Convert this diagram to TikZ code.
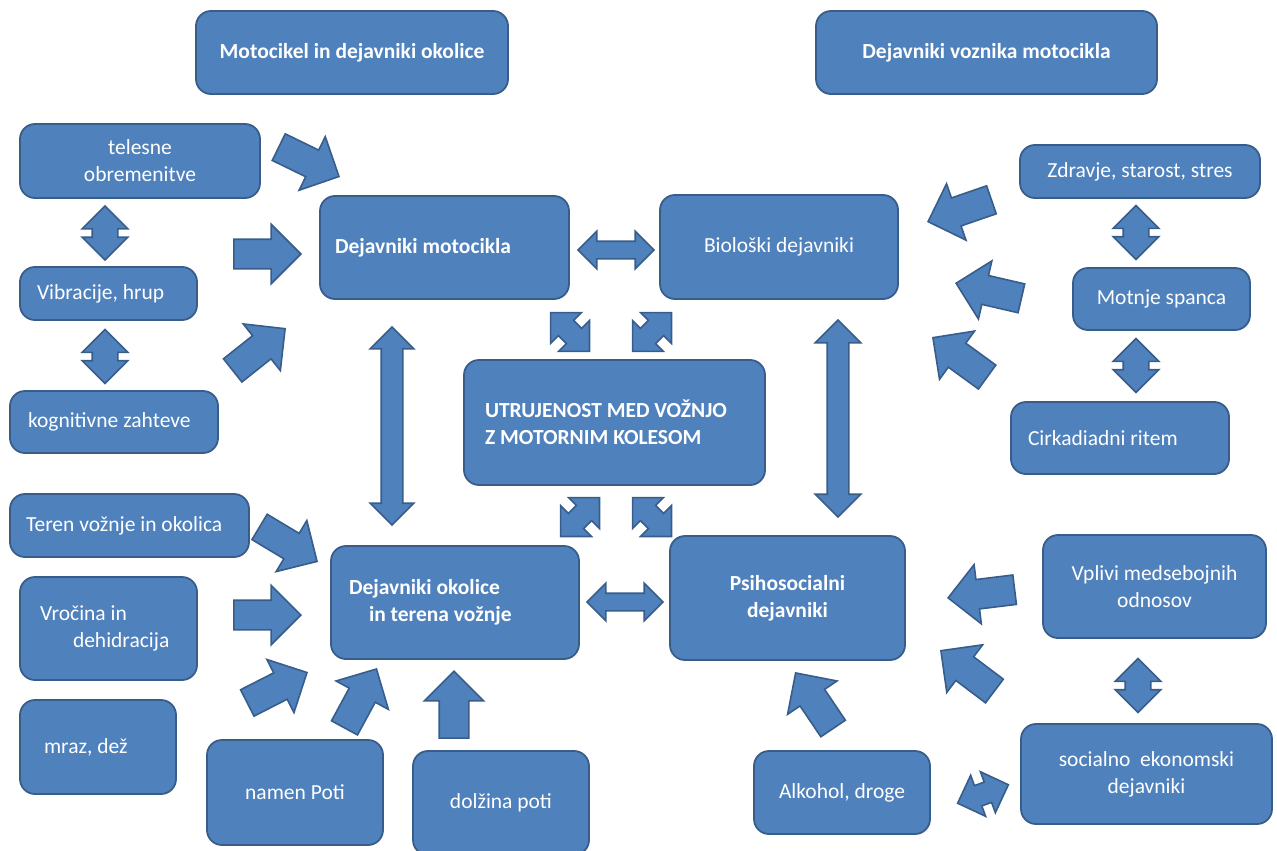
\documentclass[tikz,border=0pt]{standalone}
\usepackage{fontspec}
\setmainfont{Carlito}
\usetikzlibrary{shapes.arrows}

\definecolor{boxblue}{HTML}{4F81BD}
\definecolor{boxline}{HTML}{385D8A}

\tikzset{
  box/.style={draw=boxline, fill=boxblue, line width=1.8pt, rounded corners=15pt,
    text=white, inner sep=0pt, align=center, font=\fontsize{21.5}{27}\selectfont},
  lbox/.style={box, align=flush left, inner xsep=#1},
  fat/.style={single arrow, draw=boxline, fill=boxblue, line width=1.6pt,
    inner xsep=0pt, inner ysep=14pt, single arrow head extend=15pt,
    minimum width=58pt, minimum height=67pt, anchor=tip, rotate=#1},
  twin/.style={double arrow, draw=boxline, fill=boxblue, line width=1.6pt,
    inner xsep=0pt, inner ysep=12pt, double arrow head extend=10pt,
    minimum width=44pt, minimum height=54pt, rotate=#1},
  slim/.style={twin=#1, inner ysep=8pt, minimum width=36pt},
  diag/.style={twin=#1, inner ysep=10pt, double arrow head extend=11pt,
    minimum width=42pt, minimum height=55pt},
}

\begin{document}
\begin{tikzpicture}[x=1pt, y=-1pt]
  \useasboundingbox (0,0) rectangle (1277,851);

  % headers
  \node[box, minimum width=312, minimum height=83, font=\fontsize{21.5}{27}\selectfont\bfseries]
    (hmoto) at (352,52.5) {Motocikel in dejavniki okolice};
  \node[box, minimum width=341, minimum height=83, font=\fontsize{21.5}{27}\selectfont\bfseries]
    (hvoz) at (986.5,52.5) {Dejavniki voznika motocikla};

  % main boxes
  \node[lbox=15pt, text width=219, minimum width=249, minimum height=103,
    font=\fontsize{21.5}{27}\selectfont\bfseries] (moto) at (444.5,247.5) {Dejavniki motocikla};
  \node[box, minimum width=238, minimum height=104] (bio) at (779,247) {Biološki dejavniki};
  \node[lbox=21pt, text width=259, minimum width=301, minimum height=125,
    font=\fontsize{21.5}{27}\selectfont\bfseries] (utr) at (614.5,422.5)
    {UTRUJENOST MED VOŽNJO\\Z MOTORNIM KOLESOM};
  \node[lbox=18pt, text width=212, minimum width=248, minimum height=113,
    font=\fontsize{21.5}{27}\selectfont\bfseries] (okol) at (455,602.5)
    {Dejavniki okolice\\\hspace*{20pt}in terena vožnje};
  \node[box, minimum width=235, minimum height=124, font=\fontsize{21.5}{27}\selectfont\bfseries]
    (psiho) at (787.5,598) {Psihosocialni\\dejavniki};

  % left column
  \node[box, minimum width=240, minimum height=74] (tel) at (140,161) {telesne\\obremenitve};
  \node[lbox=17pt, text width=143, minimum width=177, minimum height=53] (vib) at (108.5,293.5) {Vibracije, hrup};
  \node[lbox=18pt, text width=172, minimum width=208, minimum height=62] (kog) at (114,422) {kognitivne zahteve};

  % right column
  \node[box, minimum width=240, minimum height=53] (zdr) at (1140,171.5) {Zdravje, starost, stres};
  \node[box, minimum width=177, minimum height=62] (spanec) at (1161.5,299) {Motnje spanca};
  \node[lbox=17pt, text width=184, minimum width=218, minimum height=72] (cirk) at (1120,438) {Cirkadiadni ritem};
  \node[box, minimum width=223, minimum height=103] (vpl) at (1154.5,586.5) {Vplivi medsebojnih\\odnosov};
  \node[box, minimum width=251, minimum height=100] (soc) at (1146.5,774) {socialno\ \ ekonomski\\dejavniki};
  \node[box, minimum width=176, minimum height=83] (alk) at (842,792.5) {Alkohol, droge};

  % bottom left
  \node[lbox=16pt, text width=207, minimum width=239, minimum height=63] (ter) at (129.5,525.5) {Teren vožnje in okolica};
  \node[lbox=20pt, text width=137, minimum width=177, minimum height=103] (vroc) at (108.5,628.5)
    {Vročina in\\\hspace*{33pt}dehidracija};
  \node[lbox=24pt, text width=108, minimum width=156, minimum height=94] (mraz) at (98,747) {mraz, dež};
  \node[box, minimum width=176, minimum height=105] (namen) at (295,792.5) {namen Poti};
  \node[box, minimum width=176, minimum height=104] (dol) at (501,803) {dolžina poti};

  % single block arrows
  \node[fat=-26] (telMoto) at (340,177) {};
  \node[fat=0] (vibMoto) at (302,254) {};
  \node[fat=38.5] (kogMoto) at (286,328) {};
  \node[fat=-31] (terOkol) at (318,562) {};
  \node[fat=0] (vrocOkol) at (302,615) {};
  \node[fat=27] (mrazOkol) at (308,672) {};
  \node[fat=61.5] (namOkol) at (377,668) {};
  \node[fat=90] (dolOkol) at (454,670) {};
  \node[fat=199] (zdrBio) at (927,222) {};
  \node[fat=167] (spaBio) at (955,283) {};
  \node[fat=144] (cirBio) at (932,337) {};
  \node[fat=187] (vplPsi) at (947,598) {};
  \node[fat=143] (socPsi) at (940,650) {};
  \node[fat=124] (alkPsi) at (795,672) {};

  % double block arrows
  \node[twin=90] (telVib) at (105,233) {};
  \node[twin=90] (vibKog) at (105,356.5) {};
  \node[twin=90] (zdrSpa) at (1136,232.5) {};
  \node[twin=90] (spaCir) at (1136,365.5) {};
  \node[twin=90] (vplSoc) at (1138,685.5) {};
  \node[slim=0, minimum height=76] (motoBio) at (616,250) {};
  \node[slim=0, minimum height=76] (okolPsi) at (625,602) {};
  \node[twin=90, inner ysep=10pt, double arrow head extend=11pt, minimum width=42pt,
    minimum height=198] (motoOkol) at (392,426) {};
  \node[twin=90, inner ysep=10pt, double arrow head extend=12pt, minimum width=44pt,
    minimum height=197] (bioPsi) at (838,418.5) {};
  \node[diag=-45] (utrMoto) at (570,332) {};
  \node[diag=45] (utrBio) at (652,332) {};
  \node[diag=45] (utrOkol) at (580,517) {};
  \node[diag=-45] (utrPsi) at (652,517) {};
  \node[diag=20, minimum height=54, minimum width=40pt] (alkSoc) at (983,794) {};
\end{tikzpicture}
\end{document}
